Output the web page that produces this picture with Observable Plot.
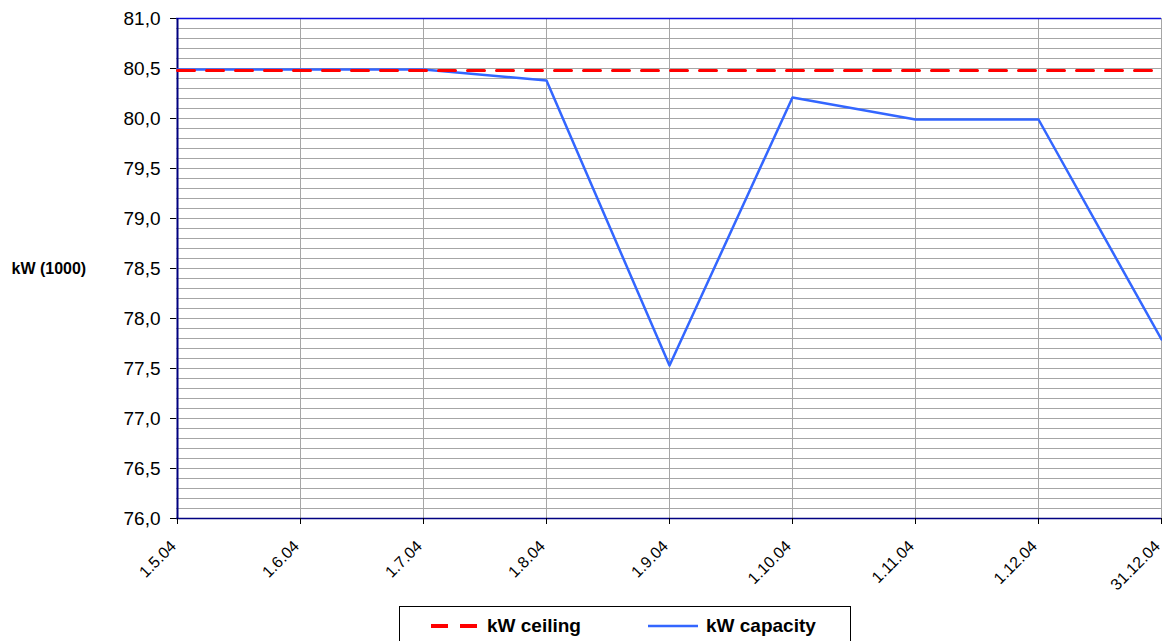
<!DOCTYPE html>
<html>
<head>
<meta charset="utf-8">
<script src="https://cdn.jsdelivr.net/npm/d3@7"></script>
<script src="https://cdn.jsdelivr.net/npm/@observablehq/plot@0.6"></script>
<style>
  html, body { margin: 0; padding: 0; background: #fff; overflow: hidden; }
  body { width: 1162px; height: 641px; position: relative; font-family: "Liberation Sans", Arial, sans-serif; }
  #chart { position: absolute; left: 0; top: 0; }
  #legend { position: absolute; left: 399px; top: 606px; width: 452px; height: 40px; border: 1px solid #000; box-sizing: border-box; background: #fff; }
  .item { position: absolute; top: 8px; font-weight: bold; font-size: 19px; color: #000; display: flex; align-items: center; }
  .sw { display: inline-block; margin-right: 8px; }
</style>
</head>
<body>
<div id="chart"></div>
<div id="legend">
  <div class="item" style="left:31px"><svg class="sw" width="48" height="6"><line x1="0" y1="3" x2="48" y2="3" stroke="#ff0000" stroke-width="4" stroke-dasharray="17,12"/></svg>kW ceiling</div>
  <div class="item" style="left:248px"><svg class="sw" width="50" height="6"><line x1="0" y1="3" x2="50" y2="3" stroke="#3366ff" stroke-width="2.5"/></svg>kW capacity</div>
</div>
<script>
const labels = ["1.5.04","1.6.04","1.7.04","1.8.04","1.9.04","1.10.04","1.11.04","1.12.04","31.12.04"];
const capacity = [80.49, 80.49, 80.49, 80.38, 77.53, 80.21, 79.99, 79.99, 77.79];
const ceiling = [80.48, 80.48, 80.48, 80.48, 80.48, 80.48, 80.48, 80.48, 80.48];
const yTicks = [76, 76.5, 77, 77.5, 78, 78.5, 79, 79.5, 80, 80.5, 81];
const yMinor = d3.range(0, 51).map(i => +(76 + i / 10).toFixed(1));
const seriesNames = ["kW ceiling", "kW capacity"];
const yLabel = "kW (1000)";

const capData = labels.map((d, i) => ({x: d, y: capacity[i]}));
const ceilData = labels.map((d, i) => ({x: d, y: ceiling[i]}));

const plot = Plot.plot({
  width: 1162,
  height: 600,
  marginLeft: 176,
  marginRight: 1,
  marginTop: 18,
  marginBottom: 82,
  style: {fontFamily: "'Liberation Sans', Arial, sans-serif", background: "#fff"},
  x: {type: "point", domain: labels, padding: 0},
  y: {domain: [76, 81]},
  marks: [
    Plot.ruleY(yMinor, {stroke: "#a6a6a6", strokeWidth: 1}),
    Plot.ruleX(labels, {stroke: "#a6a6a6", strokeWidth: 1}),
    Plot.ruleY([81], {stroke: "#1010e0", strokeWidth: 1.5}),
    Plot.ruleY([76], {stroke: "#000080", strokeWidth: 1.5}),
    Plot.ruleX([labels[0]], {stroke: "#000080", strokeWidth: 2}),
    Plot.line(capData, {x: "x", y: "y", stroke: "#3366ff", strokeWidth: 2.5}),
    Plot.line(ceilData, {x: "x", y: "y", stroke: "#ff0000", strokeWidth: 3, strokeDasharray: "17,12"}),
    Plot.axisY(yTicks, {tickFormat: d => d.toFixed(1).replace(".", ","), fontSize: 19, tickSize: 6, tickPadding: 10, label: null, stroke: "#000"}),
    Plot.axisX(labels, {tickSize: 6, tickFormat: () => "", label: null, stroke: "#000"}),
    Plot.axisX(labels, {tickRotate: -45, fontSize: 16, tickSize: 0, tickPadding: 25, dx: -4, label: null}),
    Plot.text([yLabel], {frameAnchor: "left", dx: -165, text: d => d, fontSize: 16, fontWeight: "bold", textAnchor: "start", fill: "#000"})
  ]
});
document.getElementById("chart").appendChild(plot);
</script>
</body>
</html>
